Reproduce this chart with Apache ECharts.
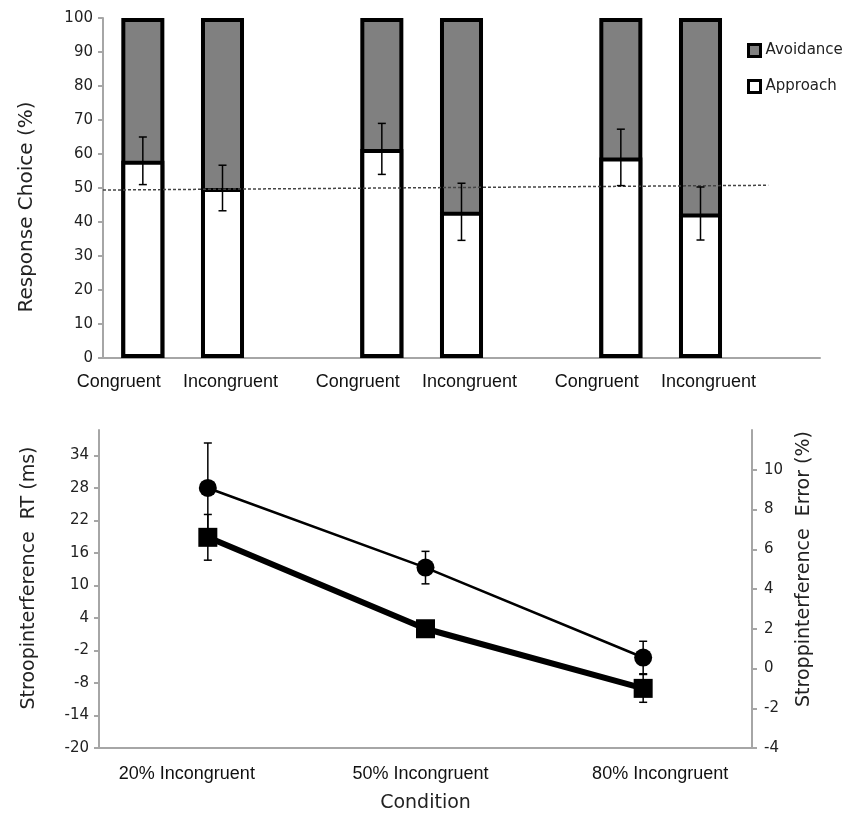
<!DOCTYPE html>
<html>
<head>
<meta charset="utf-8">
<script src="https://cdn.jsdelivr.net/npm/echarts@6/dist/echarts.min.js"></script>
<style>
html,body{margin:0;padding:0;background:#fff;}
#chart{width:847px;height:820px;}
</style>
</head>
<body>
<div id="chart"></div>
<script>
// ---- Top panel data ----
var topCategories = ['Congruent', 'Incongruent', '', 'Congruent', 'Incongruent', '', 'Congruent', 'Incongruent', ''];
var approach  = [58, 50, null, 61.5, 43, null, 59, 42.5, null];
var avoidance = [42, 50, null, 38.5, 57, null, 41, 57.5, null];
var approachErr = [7, 6.7, null, 7.5, 8.4, null, 8.3, 7.8, null];
var chanceLineX = [0, 8.35];
var chanceLineY = [49.4, 50.8];

// ---- Bottom panel data ----
var conditions = ['20% Incongruent', '50% Incongruent', '80% Incongruent'];
var rtValues = [28, 13.3, -3.3];
var rtErr = [8.3, 3.0, 3.0];
var errValues = [6.6, 2.0, -1.0];
var errErr = [1.15, 0.4, 0.7];

function errData(vals, errs) {
  var out = [];
  for (var i = 0; i < vals.length; i++) {
    if (vals[i] == null || errs[i] == null) continue;
    out.push([i, vals[i] - errs[i], vals[i] + errs[i]]);
  }
  return out;
}
function errRender(params, api) {
  var x = api.value(0), lo = api.value(1), hi = api.value(2);
  var p1 = api.coord([x, hi]), p2 = api.coord([x, lo]);
  var w = 4;
  var st = {stroke: '#000', lineWidth: 1.5};
  return {type: 'group', children: [
    {type: 'line', shape: {x1: p1[0], y1: p1[1], x2: p2[0], y2: p2[1]}, style: st},
    {type: 'line', shape: {x1: p1[0] - w, y1: p1[1], x2: p1[0] + w, y2: p1[1]}, style: st},
    {type: 'line', shape: {x1: p2[0] - w, y1: p2[1], x2: p2[0] + w, y2: p2[1]}, style: st}
  ]};
}
// total bar height (approach + avoidance) drawn behind the approach bar
var totals = [];
for (var t = 0; t < approach.length; t++) {
  totals.push(approach[t] == null ? null : approach[t] + avoidance[t]);
}
var lineData = [];
for (var k = 0; k < chanceLineX.length; k++) lineData.push([chanceLineX[k], chanceLineY[k]]);

var axisLineStyle = {color: '#a6a6a6', width: 2};
var tickFont = {fontFamily: 'DejaVu Sans', fontSize: 15, color: '#222'};
var catFont = {fontFamily: 'Liberation Sans', fontSize: 18, color: '#111'};

var chart = echarts.init(document.getElementById('chart'));
chart.setOption({
  animation: false,
  backgroundColor: '#fff',
  legend: {
    data: ['Avoidance', 'Approach'],
    orient: 'vertical',
    left: 742, top: 38,
    itemWidth: 12, itemHeight: 12, itemGap: 21,
    icon: 'rect',
    itemStyle: {borderWidth: 3, borderColor: '#000'},
    textStyle: {fontFamily: 'DejaVu Sans', fontSize: 15, color: '#222'}
  },
  grid: [
    {left: 103, right: 27, top: 18, bottom: 462},
    {left: 99, right: 95, top: 430, bottom: 72}
  ],
  xAxis: [
    {type: 'category', gridIndex: 0, data: topCategories,
     axisLine: {lineStyle: axisLineStyle},
     axisTick: {lineStyle: axisLineStyle, length: 6},
     axisLabel: {margin: 15, interval: 0,
       formatter: function (v) {
         if (v === 'Congruent') return '{c|' + v + '}';
         if (v === 'Incongruent') return '{i|' + v + '}';
         return v;
       },
       rich: {
         c: Object.assign({padding: [0, 48, 0, 0]}, catFont),
         i: Object.assign({padding: [0, 0, 0, 16]}, catFont)
       }}},
    {type: 'value', gridIndex: 0, min: 0, max: 9, show: false},
    {type: 'category', gridIndex: 1, data: conditions,
     name: 'Condition', nameLocation: 'middle', nameGap: 46,
     nameTextStyle: {fontFamily: 'DejaVu Sans', fontSize: 19, color: '#222'},
     axisLine: {onZero: false, lineStyle: axisLineStyle},
     axisTick: {lineStyle: axisLineStyle, length: 6},
     axisLabel: {margin: 17, interval: 0,
       formatter: function (v, i) { return '{p' + i + '|' + v + '}'; },
       rich: {
         p0: Object.assign({padding: [0, 42, 0, 0]}, catFont),
         p1: Object.assign({padding: [0, 10, 0, 0]}, catFont),
         p2: Object.assign({padding: [0, 0, 0, 34]}, catFont)
       }}}
  ],
  yAxis: [
    {type: 'value', gridIndex: 0, min: 0, max: 100, interval: 10,
     name: 'Response Choice (%)', nameLocation: 'middle', nameGap: 66, nameRotate: 90,
     nameTextStyle: {fontFamily: 'DejaVu Sans', fontSize: 20, color: '#222', padding: [0, 38, 0, 0]},
     axisLine: {show: true, lineStyle: axisLineStyle},
     axisTick: {show: true, lineStyle: axisLineStyle, length: 5},
     axisLabel: Object.assign({margin: 10}, tickFont),
     splitLine: {show: false}},
    {type: 'value', gridIndex: 1, min: -20, max: 38.7, interval: 6, position: 'left',
     name: 'Stroopinterference  RT (ms)', nameLocation: 'middle', nameGap: 60, nameRotate: 90,
     nameTextStyle: {fontFamily: 'DejaVu Sans', fontSize: 19, color: '#222', padding: [0, 0, 0, 22]},
     axisLine: {show: true, onZero: false, lineStyle: axisLineStyle},
     axisTick: {show: true, lineStyle: axisLineStyle, length: 5},
     axisLabel: Object.assign({margin: 10, showMaxLabel: false}, tickFont),
     splitLine: {show: false}},
    {type: 'value', gridIndex: 1, min: -4, max: 12, interval: 2, position: 'right',
     name: 'Stroppinterference  Error (%)', nameLocation: 'middle', nameGap: 43, nameRotate: 90,
     nameTextStyle: {fontFamily: 'DejaVu Sans', fontSize: 19, color: '#222', padding: [0, 0, 0, 40]},
     axisLine: {show: true, onZero: false, lineStyle: axisLineStyle},
     axisTick: {show: true, lineStyle: axisLineStyle, length: 5},
     axisLabel: Object.assign({margin: 12, showMaxLabel: false}, tickFont),
     splitLine: {show: false}}
  ],
  series: [
    {name: 'Avoidance', type: 'bar', xAxisIndex: 0, yAxisIndex: 0,
     data: totals, barWidth: '54%', z: 2,
     itemStyle: {color: '#808080', borderColor: '#000', borderWidth: 4}},
    {name: 'Approach', type: 'bar', xAxisIndex: 0, yAxisIndex: 0,
     data: approach, barWidth: '54%', barGap: '-100%', z: 3,
     itemStyle: {color: '#ffffff', borderColor: '#000', borderWidth: 4}},
    {name: 'chance', type: 'line', xAxisIndex: 1, yAxisIndex: 0, data: lineData,
     symbol: 'none', z: 5, silent: true,
     lineStyle: {color: '#444', width: 1.5, type: [3, 2]}},
    {name: 'approachErr', type: 'custom', xAxisIndex: 0, yAxisIndex: 0, z: 6,
     data: errData(approach, approachErr), encode: {x: 0, y: [1, 2]},
     renderItem: errRender},
    {name: 'RT', type: 'line', xAxisIndex: 2, yAxisIndex: 1, data: rtValues,
     symbol: 'circle', symbolSize: 18,
     itemStyle: {color: '#000'}, lineStyle: {color: '#000', width: 2.5}},
    {name: 'RTerr', type: 'custom', xAxisIndex: 2, yAxisIndex: 1, z: 6,
     data: errData(rtValues, rtErr), encode: {x: 0, y: [1, 2]},
     renderItem: errRender},
    {name: 'Error', type: 'line', xAxisIndex: 2, yAxisIndex: 2, data: errValues,
     symbol: 'rect', symbolSize: 19,
     itemStyle: {color: '#000'}, lineStyle: {color: '#000', width: 6}},
    {name: 'ErrErr', type: 'custom', xAxisIndex: 2, yAxisIndex: 2, z: 6,
     data: errData(errValues, errErr), encode: {x: 0, y: [1, 2]},
     renderItem: errRender}
  ]
});
</script>
</body>
</html>
